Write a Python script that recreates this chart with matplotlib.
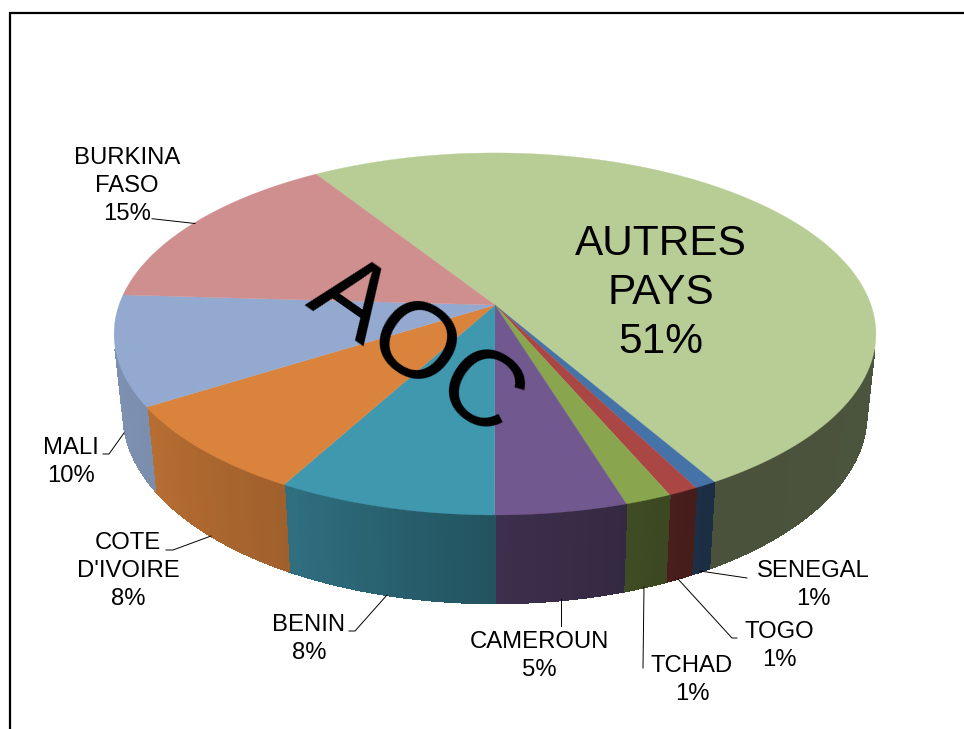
import numpy as np
import matplotlib
matplotlib.use('Agg')
import matplotlib.pyplot as plt
from matplotlib.collections import PolyCollection

# values, first slice is AUTRES PAYS, going clockwise
labels = ['AUTRES\nPAYS\n51%', 'SENEGAL\n1%', 'TOGO\n1%', 'TCHAD\n1%', 'CAMEROUN\n5%',
          'BENIN\n8%', "COTE\nD'IVOIRE\n8%", 'MALI\n10%', 'BURKINA\nFASO\n15%']
values = [50.7, 0.8, 1.1, 1.7, 4.8, 8.0, 8.1, 9.8, 15.0]
colors = ['#B8CC95', '#4572A7', '#AA4643', '#89A54E', '#71588F',
          '#4098AF', '#DA833C', '#93A9CF', '#CF8F8E']
label_x = [661, 813, 779, 692, 539, 309, 128, 71, 127]
label_y = [293, 585, 646, 680, 656, 639, 571, 462, 186]

plt.rcParams['font.family'] = ['Liberation Sans', 'DejaVu Sans']
START = -32.7  # degrees, clockwise from the back of the pie
K = -0.16      # perspective


def project(theta, cx, cy, a, b):
    """Unit circle to the screen, theta in degrees clockwise from the back."""
    t = np.radians(theta)
    x, y = np.sin(t), -np.cos(t)
    w = 1 + K*y
    return cx + a*x/w, cy + b*y/w


def top_rim(theta):
    return project(theta, 495, 305, 376, 176.4)


def bottom_rim(theta):
    return project(theta, 495, 383, 367, 185)


def side_shade(theta):
    # side wall gets darker towards the front right
    theta = (theta + 360) % 360
    return np.interp(theta, [0, 120, 150, 180, 208, 238, 262, 360],
                     [0.41, 0.41, 0.40, 0.54, 0.73, 0.84, 0.86, 0.86])


fig = plt.figure(figsize=(9.64, 7.29), dpi=100)
ax = fig.add_axes([0, 0, 1, 1])
ax.set_xlim(0, 964)
ax.set_ylim(729, 0)
ax.axis('off')

edges = START + np.concatenate([[0], np.cumsum(values)]) * 360 / sum(values)

# side wall, only the part facing the viewer
strips = []
strip_colors = []
for i, color in enumerate(colors):
    base = np.array(matplotlib.colors.to_rgb(color))
    thetas = np.arange(edges[i], edges[i+1], 1.0)
    thetas = np.append(thetas, edges[i+1])
    for t0, t1 in zip(thetas[:-1], thetas[1:]):
        if np.cos(np.radians(t0)) > -0.24 or np.cos(np.radians(t1)) > -0.24:
            continue
        x0, y0 = top_rim(t0)
        x1, y1 = top_rim(t1)
        x2, y2 = bottom_rim(t1)
        x3, y3 = bottom_rim(t0)
        strips.append([(x0, y0), (x1, y1), (x2, y2), (x3, y3)])
        strip_colors.append(base * side_shade((t0 + t1) / 2))
side = PolyCollection(strips, facecolors=strip_colors, edgecolors=strip_colors,
                      linewidths=0.8, antialiaseds=False)
ax.add_collection(side)

# top of the pie
for i, color in enumerate(colors):
    thetas = np.linspace(edges[i], edges[i+1], 200)
    xs, ys = top_rim(thetas)
    ax.fill(np.r_[495, xs], np.r_[305, ys], color=color, lw=0.2, zorder=3)

# leader lines
leaders = [
    ([152, 195], [218.7, 223.5]),
    ([103, 109, 124], [454, 454, 433]),
    ([166, 173, 211], [550, 550, 536]),
    ([349, 355, 387], [631, 631, 595]),
    ([561, 561], [599, 626]),
    ([644, 643], [587, 668]),
    ([678, 732, 737], [579, 638, 638]),
    ([700, 747], [571, 578]),
]
for xs, ys in leaders:
    ax.plot(xs, ys, color='black', lw=0.7, zorder=4)

# outer frame, open on the right and the bottom
ax.plot([10.3, 10.3, 964], [729, 12.5, 12.5], color='black', lw=1.6, zorder=5,
        solid_joinstyle='miter')

for text, x, y in zip(labels, label_x, label_y):
    big = text.startswith('AUTRES')
    ax.text(x, y, text, fontsize=30.5 if big else 17.2, ha='center', va='center',
            color='black', linespacing=1.3 if big else 1.34, zorder=6)

ax.text(416, 350, 'AOC', fontsize=78, rotation=-35, rotation_mode='anchor',
        ha='center', va='center', color='black', zorder=6)

plt.savefig('out.png', dpi=100)
plt.close()
